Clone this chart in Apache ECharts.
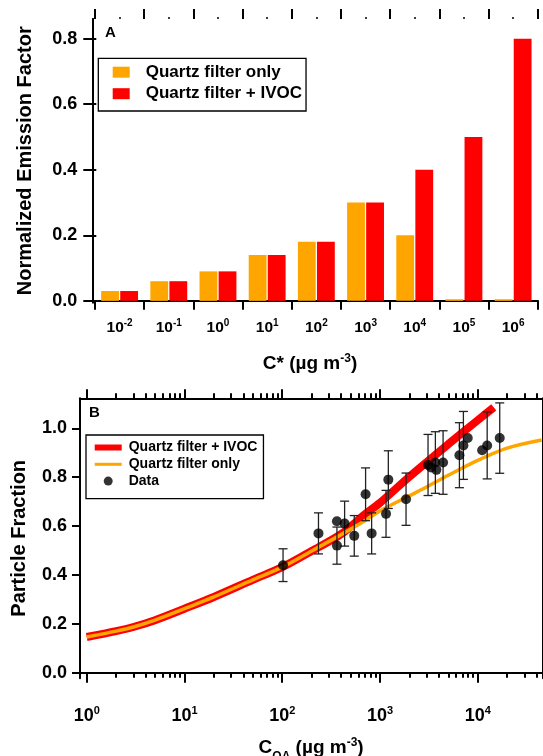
<!DOCTYPE html>
<html>
<head>
<meta charset="utf-8">
<script src="https://cdn.jsdelivr.net/npm/echarts@6/dist/echarts.min.js"></script>
<style>
  html, body { margin: 0; padding: 0; background: #fff; }
  #chart { width: 543px; height: 756px; }
</style>
</head>
<body>
<div id="chart"></div>
<script>
// ---- Panel A: volatility distribution of the emissions ----
const cStarExponents = ['-2', '-1', '0', '1', '2', '3', '4', '5', '6'];
const quartzOnly = [0.03, 0.06, 0.09, 0.14, 0.18, 0.30, 0.20, 0.005, 0.005];
const quartzIvoc = [0.03, 0.06, 0.09, 0.14, 0.18, 0.30, 0.40, 0.50, 0.80];
const emissionTicks = [0, 0.2, 0.4, 0.6, 0.8];

// ---- Panel B: partitioning curves and measurements ----
const ivocCurveX = [1, 2, 3, 5, 10, 20, 50, 100, 200, 400, 700, 1000, 2000, 5000, 10000, 14600];
const ivocCurveY = [0.146, 0.170, 0.187, 0.215, 0.262, 0.310, 0.380, 0.432, 0.498, 0.567, 0.648, 0.695, 0.802, 0.935, 1.033, 1.086];
const filterCurveX = [1, 2, 3, 5, 10, 20, 50, 100, 200, 400, 700, 1000, 2000, 3000, 5000, 10000, 20000, 45000];
const filterCurveY = [0.146, 0.170, 0.187, 0.215, 0.262, 0.310, 0.380, 0.432, 0.498, 0.565, 0.622, 0.662, 0.724, 0.760, 0.808, 0.869, 0.919, 0.952];
const coaValues = [102, 235, 363, 363, 435, 546, 713, 822, 1154, 1218, 1849, 3104, 3333, 3690, 3778, 4424, 6500, 7140, 7910, 11100, 12500, 16800];
const particleFraction = [0.44, 0.57, 0.62, 0.52, 0.61, 0.56, 0.73, 0.57, 0.65, 0.79, 0.71, 0.85, 0.84, 0.86, 0.83, 0.86, 0.89, 0.93, 0.96, 0.91, 0.93, 0.96];
const fractionError = [0.067, 0.084, null, 0.076, 0.092, 0.083, 0.108, 0.084, 0.096, 0.118, 0.107, 0.125, null, 0.126, null, 0.13, 0.133, 0.139, null, null, 0.137, 0.144];
const fractionTicks = [0, 0.2, 0.4, 0.6, 0.8, 1.0];
const coaDecades = [1, 10, 100, 1000, 10000];

// minor log ticks 2..9 within each decade
const coaMinor = [];
[1, 10, 100, 1000, 10000].forEach(d => { for (let k = 2; k <= 9; k++) { if (d * k < 45800) coaMinor.push(d * k); } });

const FONT = 'Liberation Sans, Arial, Helvetica, sans-serif';
const BLACK = '#000';
const ORANGE = '#FFA500';
const RED = '#FF0000';

const legendNames = {
  'Quartz filter only': 'Quartz filter only',
  'Quartz filter + IVOC': 'Quartz filter + IVOC',
  'IVOC curve': 'Quartz filter + IVOC',
  'Filter curve': 'Quartz filter only',
  'Data': 'Data'
};

const axisLine = { show: true, lineStyle: { color: BLACK, width: 2 } };
const noLine = { show: false };
const tickStyle = { color: BLACK, width: 2 };

function frameAxis(gridIndex, position) {
  return {
    gridIndex, type: 'value', min: 0, max: 1, position,
    axisLine, axisTick: { show: false }, axisLabel: { show: false }, splitLine: { show: false }
  };
}

const supRichA = {
  b: { fontFamily: FONT, fontWeight: 'bold', fontSize: 15.5, color: BLACK, lineHeight: 18 },
  s: { fontFamily: FONT, fontWeight: 'bold', fontSize: 10, color: BLACK, lineHeight: 11, verticalAlign: 'top' }
};
const supRichB = {
  b: { fontFamily: FONT, fontWeight: 'bold', fontSize: 18, color: BLACK, lineHeight: 22 },
  s: { fontFamily: FONT, fontWeight: 'bold', fontSize: 11, color: BLACK, lineHeight: 12, verticalAlign: 'top' }
};
const nameRich = {
  t: { fontFamily: FONT, fontWeight: 'bold', fontSize: 19, color: BLACK, lineHeight: 22 },
  s: { fontFamily: FONT, fontWeight: 'bold', fontSize: 12, color: BLACK, lineHeight: 12, verticalAlign: 'top' },
  u: { fontFamily: FONT, fontWeight: 'bold', fontSize: 12, color: BLACK, lineHeight: 12, padding: [14, 0, 0, 0], verticalAlign: 'top' }
};

const option = {
  animation: false,
  backgroundColor: '#fff',
  title: [
    { text: 'A', left: 105, top: 25, padding: 0, textStyle: { fontFamily: FONT, fontWeight: 'bold', fontSize: 15, color: BLACK } },
    { text: 'B', left: 89, top: 405, padding: 0, textStyle: { fontFamily: FONT, fontWeight: 'bold', fontSize: 15, color: BLACK } }
  ],
  legend: [
    {
      orient: 'vertical', left: 98.3, top: 58.3,
      data: ['Quartz filter only', 'Quartz filter + IVOC'],
      icon: 'rect', itemWidth: 17, itemHeight: 11, itemGap: 4.5,
      padding: [5.4, 4, 8.8, 14.4],
      borderColor: BLACK, borderWidth: 1.3, borderRadius: 0,
      textStyle: { fontFamily: FONT, fontWeight: 'bold', fontSize: 17, lineHeight: 17, color: BLACK, padding: [0, 0, 0, 11] },
      formatter: n => legendNames[n]
    },
    {
      orient: 'vertical', left: 86, top: 435,
      data: [
        { name: 'IVOC curve', lineStyle: { width: 6, color: RED }, itemStyle: { opacity: 0, color: 'rgba(0,0,0,0)', borderWidth: 0 } },
        { name: 'Filter curve', lineStyle: { width: 3, color: ORANGE }, itemStyle: { opacity: 0, color: 'rgba(0,0,0,0)', borderWidth: 0 } },
        { name: 'Data', icon: 'circle', itemStyle: { color: BLACK } }
      ],
      itemWidth: 27, itemHeight: 9, itemGap: 1.8,
      padding: [5, 6, 10, 5.7],
      borderColor: BLACK, borderWidth: 1.3, borderRadius: 0,
      textStyle: { fontFamily: FONT, fontWeight: 'bold', fontSize: 14, lineHeight: 15, color: BLACK, padding: [0, 0, 0, 2] },
      formatter: n => legendNames[n]
    }
  ],
  grid: [
    { left: 92.3, top: 19, width: 445.4, height: 283.5, outerBoundsMode: 'none', containLabel: false },
    { left: 95, top: 19, width: 442.7, height: 283.5, outerBoundsMode: 'none', containLabel: false },
    { left: 80, top: 398.3, width: 462.3, height: 280, outerBoundsMode: 'none', containLabel: false }
  ],
  xAxis: [
    Object.assign(frameAxis(0, 'bottom'), {
      name: '{t|C* (µg m}{s|-3}{t|)}', nameLocation: 'middle', nameGap: 50,
      nameTextStyle: { rich: nameRich, padding: [0, 10, 0, 0] }
    }),
    frameAxis(0, 'top'),
    {
      gridIndex: 1, type: 'category', data: cStarExponents, position: 'bottom',
      axisLine: noLine,
      axisTick: { show: true, length: 9, lineStyle: tickStyle },
      axisLabel: { interval: 0, margin: 16, formatter: v => '{b|10}{s|' + v + '}', rich: supRichA },
      splitLine: { show: false }
    },
    {
      gridIndex: 1, type: 'category', data: cStarExponents, position: 'top',
      axisLine: noLine,
      axisTick: { show: true, length: 10, interval: 0, lineStyle: tickStyle },
      axisLabel: { show: false }, splitLine: { show: false }
    },
    {
      gridIndex: 1, type: 'category', data: cStarExponents, position: 'top',
      axisLine: noLine,
      axisTick: { show: true, length: 2, interval: 0, alignWithLabel: true, lineStyle: { color: BLACK, width: 1.5 } },
      axisLabel: { show: false }, splitLine: { show: false }
    },
    {
      gridIndex: 2, type: 'log', logBase: 10, min: 0.854, max: 45800, position: 'bottom',
      axisLine,
      axisTick: { show: true, length: 10, lineStyle: tickStyle, customValues: coaDecades },
      axisLabel: {
        margin: 27, customValues: coaDecades,
        formatter: v => '{b|10}{s|' + Math.round(Math.log10(v)) + '}', rich: supRichB
      },
      splitLine: { show: false }, minorTick: { show: false },
      name: '{t|C}{u|OA}{t| (µg m}{s|-3}{t|)}', nameLocation: 'middle', nameGap: 58,
      nameTextStyle: { rich: nameRich }
    },
    {
      gridIndex: 2, type: 'log', logBase: 10, min: 0.854, max: 45800, position: 'bottom',
      axisLine: noLine,
      axisTick: { show: true, length: 5, lineStyle: tickStyle, customValues: coaMinor },
      axisLabel: { show: false }, splitLine: { show: false }
    },
    {
      gridIndex: 2, type: 'log', logBase: 10, min: 0.854, max: 45800, position: 'top',
      axisLine,
      axisTick: { show: true, length: 9, lineStyle: tickStyle, customValues: coaDecades },
      axisLabel: { show: false }, splitLine: { show: false }
    },
    {
      gridIndex: 2, type: 'log', logBase: 10, min: 0.854, max: 45800, position: 'top',
      axisLine: noLine,
      axisTick: { show: true, length: 5, lineStyle: tickStyle, customValues: coaMinor },
      axisLabel: { show: false }, splitLine: { show: false }
    }
  ],
  yAxis: [
    {
      gridIndex: 0, type: 'value', min: -0.005, max: 0.86, position: 'left',
      axisLine,
      axisTick: { show: true, length: 9, lineStyle: tickStyle, customValues: emissionTicks },
      axisLabel: {
        margin: 15, customValues: emissionTicks, formatter: v => v.toFixed(1),
        fontFamily: FONT, fontWeight: 'bold', fontSize: 18, color: BLACK
      },
      splitLine: { show: false },
      name: 'Normalized Emission Factor', nameLocation: 'middle', nameGap: 57,
      nameTextStyle: { fontFamily: FONT, fontWeight: 'bold', fontSize: 20, color: BLACK }
    },
    {
      gridIndex: 0, type: 'value', min: -0.005, max: 0.86, position: 'right',
      axisLine,
      axisTick: { show: true, length: 4, lineStyle: tickStyle, customValues: emissionTicks },
      axisLabel: { show: false }, splitLine: { show: false }
    },
    { gridIndex: 1, type: 'value', min: -0.005, max: 0.86, show: false },
    {
      gridIndex: 2, type: 'value', min: -0.0229, max: 1.1228, position: 'left',
      axisLine,
      axisTick: { show: true, length: 8, lineStyle: tickStyle, customValues: fractionTicks },
      axisLabel: {
        margin: 13, customValues: fractionTicks, formatter: v => v.toFixed(1),
        fontFamily: FONT, fontWeight: 'bold', fontSize: 18, color: BLACK
      },
      splitLine: { show: false },
      name: 'Particle Fraction', nameLocation: 'middle', nameGap: 51,
      nameTextStyle: { fontFamily: FONT, fontWeight: 'bold', fontSize: 20, color: BLACK }
    },
    {
      gridIndex: 2, type: 'value', min: -0.0229, max: 1.1228, position: 'right',
      axisLine, axisTick: { show: false }, axisLabel: { show: false }, splitLine: { show: false }
    }
  ],
  series: [
    {
      name: 'Quartz filter only', type: 'bar', xAxisIndex: 2, yAxisIndex: 2,
      data: quartzOnly, itemStyle: { color: ORANGE },
      barCategoryGap: '25%', barGap: '7%'
    },
    {
      name: 'Quartz filter + IVOC', type: 'bar', xAxisIndex: 2, yAxisIndex: 2,
      data: quartzIvoc, itemStyle: { color: RED },
      barCategoryGap: '25%', barGap: '7%'
    },
    {
      name: 'IVOC curve', type: 'line', xAxisIndex: 5, yAxisIndex: 3,
      data: ivocCurveX.map((x, i) => [x, ivocCurveY[i]]),
      symbol: 'none', smooth: 0.3, z: 2,
      lineStyle: { color: RED, width: 8, cap: 'butt', join: 'round' },
      itemStyle: { color: RED }
    },
    {
      name: 'Filter curve', type: 'line', xAxisIndex: 5, yAxisIndex: 3,
      data: filterCurveX.map((x, i) => [x, filterCurveY[i]]),
      symbol: 'none', smooth: 0.3, z: 3,
      lineStyle: { color: ORANGE, width: 3.5, cap: 'butt', join: 'round' },
      itemStyle: { color: ORANGE }
    },
    {
      name: 'Error', type: 'custom', xAxisIndex: 5, yAxisIndex: 3, z: 4,
      data: coaValues.map((x, i) => [x, particleFraction[i], fractionError[i] == null ? 0 : fractionError[i]]),
      renderItem: (params, api) => {
        const x = api.value(0), y = api.value(1), e = api.value(2);
        if (!e) return { type: 'group', children: [] };
        const hi = api.coord([x, y + e]);
        const lo = api.coord([x, y - e]);
        const cw = 4.5;
        const st = { stroke: '#222', lineWidth: 1.3 };
        return {
          type: 'group',
          children: [
            { type: 'line', shape: { x1: hi[0], y1: hi[1], x2: lo[0], y2: lo[1] }, style: st },
            { type: 'line', shape: { x1: hi[0] - cw, y1: hi[1], x2: hi[0] + cw, y2: hi[1] }, style: st },
            { type: 'line', shape: { x1: lo[0] - cw, y1: lo[1], x2: lo[0] + cw, y2: lo[1] }, style: st }
          ]
        };
      }
    },
    {
      name: 'Data', type: 'scatter', xAxisIndex: 5, yAxisIndex: 3, z: 5,
      data: coaValues.map((x, i) => [x, particleFraction[i]]),
      symbol: 'circle', symbolSize: 10, itemStyle: { color: BLACK }
    }
  ]
};

const chart = echarts.init(document.getElementById('chart'), null, { renderer: 'canvas' });
chart.setOption(option);
</script>
</body>
</html>
